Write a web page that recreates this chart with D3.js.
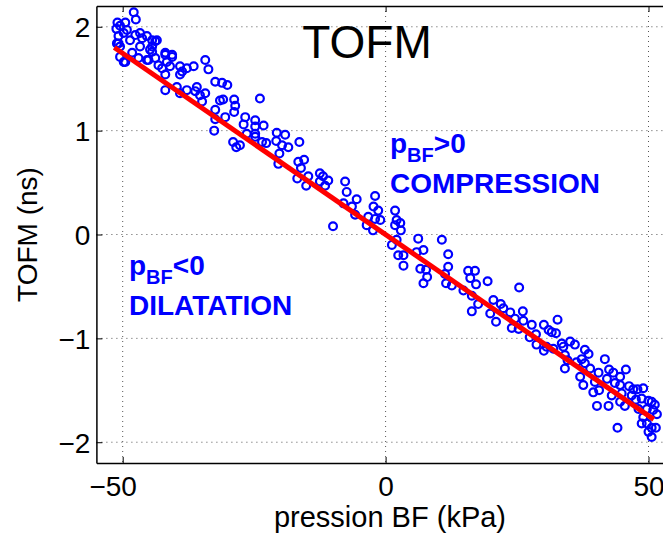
<!DOCTYPE html>
<html><head><meta charset="utf-8">
<script src="https://cdn.jsdelivr.net/npm/d3@7"></script>
<style>
body{margin:0;background:#fff;}
text{font-family:Arial,"Liberation Sans",Helvetica,sans-serif;}
</style>
</head><body>
<svg id="c" width="663" height="534"></svg>
<script>
const xTicks=[-50,0,50];
const yTicks=[-2,-1,0,1,2];
const titleText="TOFM";
const xLabel="pression BF (kPa)";
const yLabel="TOFM (ns)";
const pressionBF=[-47.9,-47.5,-51.0,-51.2,-50.5,-49.5,-49.2,-49.8,-50.8,-51.1,-50.5,-49.8,-50.5,-48.2,-47.0,-48.6,-47.6,-46.7,-46.3,-45.4,
-44.4,-43.8,-44.4,-44.4,-46.7,-45.1,-43.8,-43.2,-41.9,-40.6,-41.6,-41.0,-42.5,-41.9,-39.1,-38.7,-37.8,-36.5,-39.1,-34.3,
-33.7,-41.9,-39.7,-39.1,-37.8,-35.9,-36.2,-35.3,-34.3,-34.9,-32.4,-31.1,-30.1,-30.9,-28.8,-28.6,-28.8,-32.4,-30.5,-32.4,
-32.6,-29.0,-28.4,-26.7,-27.0,-24.8,-24.8,-23.9,-24.8,-26.4,-23.2,-24.8,-23.5,-22.7,-20.7,-19.1,-20.8,-19.7,-18.5,-20.2,
-20.4,-16.4,-16.6,-15.5,-16.1,-16.8,-14.7,-15.1,-12.5,-11.9,-12.5,-10.9,-11.5,-7.7,-7.4,-5.5,-8.0,-6.4,-5.8,-10.0,
-2.0,-2.3,-1.4,-3.3,-2.0,-1.0,-3.6,-2.4,1.8,2.1,2.8,1.8,2.9,1.2,2.1,2.4,3.4,3.4,-27.7,6.2,
5.9,7.2,10.7,11.9,11.9,6.6,7.7,7.9,7.2,11.3,11.5,12.6,15.7,17.0,16.1,17.2,14.8,16.4,19.4,17.6,
16.4,20.5,21.9,19.9,21.0,22.4,23.7,25.4,24.6,26.1,26.2,24.0,25.3,27.8,27.4,28.6,30.1,28.7,30.1,31.0,
31.6,32.4,32.7,30.6,31.9,33.5,33.8,35.1,36.0,34.1,34.6,34.1,37.9,38.6,37.3,37.9,36.3,37.0,37.6,38.9,
40.5,41.7,39.8,39.5,40.6,40.2,42.5,43.3,44.6,45.7,42.1,43.6,42.4,43.0,44.6,44.9,44.6,45.5,46.3,47.1,
47.9,49.0,46.8,47.6,48.7,50.0,50.6,51.2,49.7,50.9,48.1,49.0,49.7,50.6,51.4,50.0,50.6,44.1,48.7,
-50.8,-49.5,-45.4,-44.8,-43.5,-41.9,-40.6,-31.5,51.6];
const tofm=[2.14,2.07,2.04,1.98,2.01,2.04,1.97,1.94,1.91,1.84,1.81,1.66,1.71,1.75,1.70,1.87,1.92,1.94,1.89,1.91,
1.87,1.86,1.81,1.76,1.81,1.68,1.70,1.63,1.75,1.71,1.66,1.62,1.60,1.54,1.62,1.57,1.60,1.62,1.54,1.68,
1.59,1.39,1.42,1.36,1.39,1.42,1.38,1.34,1.36,1.28,1.47,1.46,1.44,1.30,1.30,1.24,1.18,1.20,1.13,1.11,
1.00,0.89,0.84,1.13,1.06,1.10,1.04,1.31,0.97,0.97,1.05,0.94,0.89,0.88,0.98,0.96,0.90,0.86,0.84,0.78,
0.68,0.89,0.70,0.72,0.64,0.54,0.56,0.47,0.59,0.56,0.51,0.52,0.47,0.51,0.41,0.34,0.30,0.27,0.19,0.08,
0.37,0.27,0.23,0.17,0.15,0.14,0.09,0.04,0.23,0.14,0.11,0.09,0.04,-0.10,-0.05,-0.20,-0.20,-0.30,0.86,-0.04,
-0.17,-0.15,-0.05,-0.19,-0.31,-0.33,-0.34,-0.41,-0.47,-0.38,-0.47,-0.49,-0.35,-0.35,-0.42,-0.48,-0.54,-0.59,-0.45,-0.67,
-0.74,-0.63,-0.67,-0.76,-0.84,-0.71,-0.75,-0.51,-0.81,-0.74,-0.83,-0.90,-0.91,-0.87,-0.99,-0.96,-0.87,-1.06,-1.12,-0.92,
-0.94,-0.95,-0.82,-1.08,-1.10,-1.05,-1.08,-1.03,-1.06,-1.16,-1.21,-1.29,-1.11,-1.15,-1.20,-1.24,-1.23,-1.37,-1.45,-1.29,
-1.33,-1.20,-1.42,-1.52,-1.50,-1.65,-1.30,-1.33,-1.37,-1.30,-1.39,-1.43,-1.65,-1.55,-1.45,-1.53,-1.61,-1.65,-1.46,-1.49,
-1.49,-1.48,-1.55,-1.59,-1.58,-1.60,-1.61,-1.64,-1.68,-1.69,-1.68,-1.76,-1.82,-1.86,-1.86,-1.90,-1.95,-1.86,-1.82,
1.84,1.66,1.68,1.78,1.87,1.73,1.73,1.29,-1.73];
const fitX=[-51.6,51.0];
const fitY=[1.80,-1.78];

const svg=d3.select("#c");
const L=96.4,R=674.8,T=6,B=463;
const x=d3.scaleLinear().domain([-55,55]).range([L,R]);
const y=d3.scaleLinear().domain([-2.2,2.2]).range([B,T]);

// grid
const g=svg.append("g");
g.selectAll(".gx").data(xTicks).join("line")
  .attr("x1",d=>x(d)).attr("x2",d=>x(d)).attr("y1",T).attr("y2",B)
  .attr("stroke","#555").attr("stroke-width",1).attr("stroke-dasharray","1,4");
g.selectAll(".gy").data(yTicks).join("line")
  .attr("x1",L).attr("x2",R).attr("y1",d=>y(d)).attr("y2",d=>y(d))
  .attr("stroke","#555").attr("stroke-width",1).attr("stroke-dasharray","1,4");

// points
svg.append("g").selectAll("circle").data(pressionBF.map((v,i)=>[v,tofm[i]])).join("circle")
  .attr("cx",d=>x(d[0])).attr("cy",d=>y(d[1])).attr("r",3.9)
  .attr("fill","none").attr("stroke","#0000ff").attr("stroke-width",2.2);

// fit line
svg.append("line")
  .attr("x1",x(fitX[0])).attr("y1",y(fitY[0])).attr("x2",x(fitX[1])).attr("y2",y(fitY[1]))
  .attr("stroke","#ff0000").attr("stroke-width",5);

// axes
const fmt=d=>d3.format("d")(d).replace("-","\u2212");
const ax=svg.append("g").attr("transform",`translate(0,${B})`)
  .call(d3.axisBottom(x).tickValues(xTicks).tickFormat(fmt).tickSizeInner(-6).tickSizeOuter(0).tickPadding(8));
const axT=svg.append("g").attr("transform",`translate(0,${T})`)
  .call(d3.axisTop(x).tickValues(xTicks).tickFormat("").tickSizeInner(-6).tickSizeOuter(0));
const ay=svg.append("g").attr("transform",`translate(${L},0)`)
  .call(d3.axisLeft(y).tickValues(yTicks).tickFormat(fmt).tickSizeInner(-6).tickSizeOuter(0).tickPadding(6));
[ax,axT,ay].forEach(a=>{
  a.select(".domain").attr("stroke","#000").attr("stroke-width",1.5);
  a.selectAll(".tick line").attr("stroke","#000").attr("stroke-width",1);
  a.selectAll("text").attr("font-size",28).attr("fill","#000").attr("font-family","Arial, 'Liberation Sans', sans-serif");
});
ax.selectAll(".tick text").attr("dy","0.9em").attr("dx",d=>d<0?-10:0);
ay.selectAll(".tick text").attr("dy","0.36em");

// titles
svg.append("text").attr("x",367).attr("y",58).attr("text-anchor","middle")
  .attr("font-size",46).attr("fill","#000").text(titleText);
svg.append("text").attr("x",390).attr("y",527).attr("text-anchor","middle")
  .attr("font-size",29).attr("fill","#000").text(xLabel);
svg.append("text").attr("transform","translate(37,234.5) rotate(-90)").attr("text-anchor","middle")
  .attr("font-size",28).attr("fill","#000").text(yLabel);

// annotations
function ann(px,py,sign,word){
  const t=svg.append("text").attr("x",px).attr("y",py).attr("fill","#0000ff")
    .attr("font-weight","bold").attr("font-size",28);
  t.append("tspan").text("p");
  t.append("tspan").attr("font-size",20).attr("dy",9).text("BF");
  t.append("tspan").attr("dy",-9).text(sign+"0");
  svg.append("text").attr("x",px).attr("y",py+40).attr("fill","#0000ff")
    .attr("font-weight","bold").attr("font-size",28).text(word);
}
ann(390,153,">","COMPRESSION");
ann(129,275,"<","DILATATION");
</script>
</body></html>
